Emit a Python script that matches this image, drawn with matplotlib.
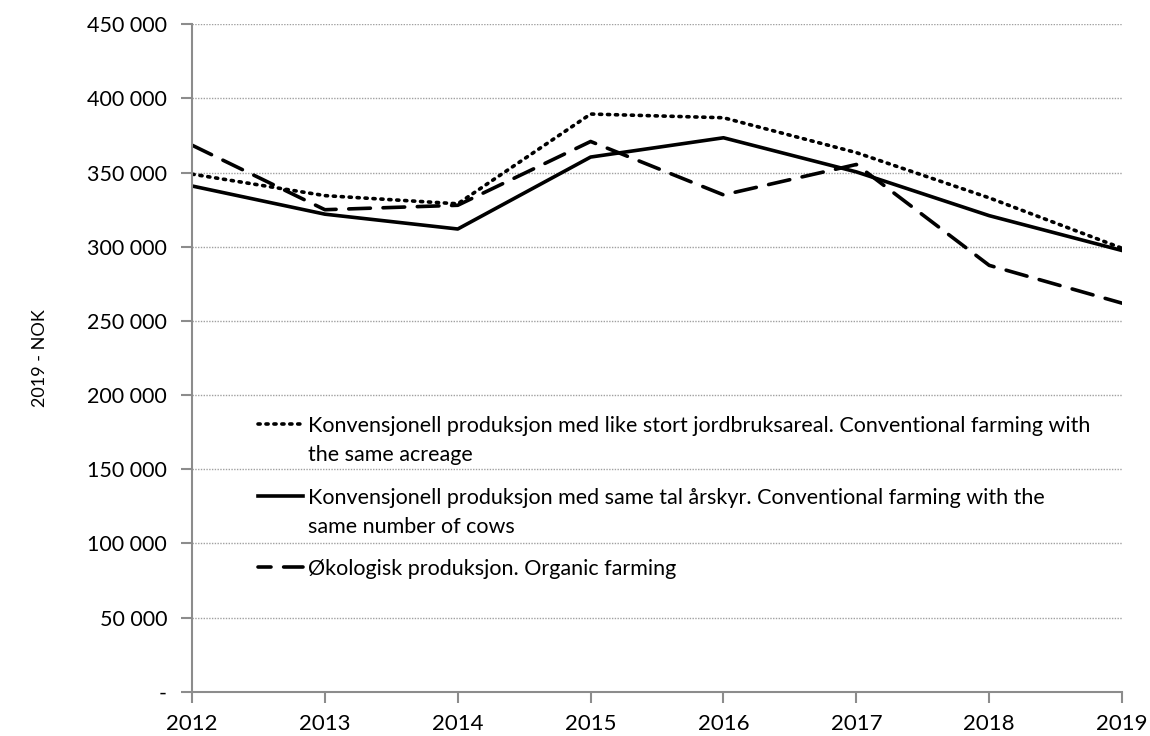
import matplotlib.pyplot as plt
from matplotlib.ticker import FuncFormatter

years = [2012, 2013, 2014, 2015, 2016, 2017, 2018, 2019]
same_acreage = [349000, 334500, 329000, 389500, 387000, 363500, 333000, 299000]
same_cows = [341000, 322000, 312000, 360500, 373500, 350500, 321000, 297500]
organic = [368500, 325000, 328000, 371000, 335000, 355500, 287500, 262000]

labels = [
    "Konvensjonell produksjon med like stort jordbruksareal. Conventional farming with\nthe same acreage",
    "Konvensjonell produksjon med same tal årskyr. Conventional farming with the\nsame number of cows",
    "Økologisk produksjon. Organic farming",
]

plt.rcParams['font.family'] = ['Lato', 'DejaVu Sans']

fig = plt.figure(figsize=(11.5, 7.36), dpi=100)
ax = fig.add_axes([0.167, 0.060, 0.8087, 0.907])

dotted = (0, (0.6, 1.6))
styles = [dotted, '-', (0, (6, 3.5))]
series = [same_acreage, same_cows, organic]
for vals, ls in zip(series, styles):
    ax.plot(years, vals, color='black', lw=2.6, linestyle=ls, dash_capstyle='round')

ax.set_xlim(2012, 2019)
ax.set_ylim(0, 450000)
ax.set_xticks(years)
ax.set_yticks(range(0, 450001, 50000))
ax.yaxis.set_major_formatter(FuncFormatter(
    lambda v, p: "-" if v == 0 else f"{int(v):,}".replace(",", " ")))

ax.grid(axis='y', color='#a0a0a0', linestyle=(0, (1, 1)), lw=1.0)
ax.set_axisbelow(True)
for s in ['top', 'right']:
    ax.spines[s].set_visible(False)
for s in ['left', 'bottom']:
    ax.spines[s].set_color('#8c8c8c')
    ax.spines[s].set_linewidth(1.5)
ax.tick_params(axis='both', colors='#8c8c8c', length=8, width=1.5)
ax.tick_params(axis='y', labelcolor='black', labelsize=15.5, pad=10)
ax.tick_params(axis='x', labelcolor='black', labelsize=16, pad=8)

ax.set_ylabel("2019 - NOK", fontsize=13, labelpad=28)

# legend drawn by hand: handle sits on the first text line (Excel style)
leg_styles = [dotted, '-', (2.4, (6, 3.5))]
entry_y = [0.4012, 0.2934, 0.1871]
line_step = 0.0434
for lab, ls, y0 in zip(labels, leg_styles, entry_y):
    ax.plot([0.071, 0.1194], [y0, y0], transform=ax.transAxes, color='black',
            lw=2.6, linestyle=ls, dash_capstyle='round', clip_on=False)
    for i, part in enumerate(lab.split("\n")):
        ax.text(0.1247, y0 - i * line_step, part, transform=ax.transAxes,
                fontsize=15.5, va='center_baseline', ha='left')

fig.savefig("out.png", dpi=100)
